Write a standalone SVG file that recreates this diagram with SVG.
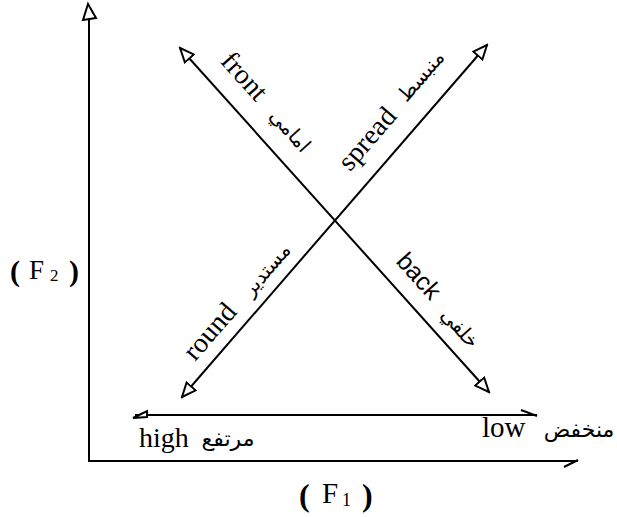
<svg xmlns="http://www.w3.org/2000/svg" width="617" height="517" viewBox="0 0 617 517">
<style>
.ln{stroke:#000;stroke-width:2;fill:none}
.en{font-family:"Liberation Serif","Times New Roman",serif;font-size:28px;fill:#000}
.ensans{font-family:"Liberation Sans",Arial,sans-serif;font-size:25px;fill:#000}
.ar{font-family:"DejaVu Sans","Noto Sans",sans-serif;font-size:20px;fill:#000}
.arh{font-family:"DejaVu Sans","Noto Sans",sans-serif;font-size:22px;fill:#000}
.par{font-weight:bold}
.head{fill:#fff;stroke:#000;stroke-width:2}
</style>
<defs>
<marker id="tri" markerUnits="userSpaceOnUse" viewBox="-1 -1 17 16" markerWidth="17" markerHeight="16" refX="14" refY="7" orient="auto-start-reverse">
<path d="M14,7 L0,1 L0,13 Z" fill="#fff" stroke="#000" stroke-width="2"/>
</marker>
</defs>
<g id="connectors">
<line class="ln" x1="89" y1="462" x2="89" y2="6"/>
<path class="head" d="M88,4 L83,20 L96,18 Z"/>
<line class="ln" x1="88" y1="461" x2="578" y2="461"/>
<path class="ln" d="M578,460 L564,467"/>
<line class="ln" x1="135" y1="415" x2="537" y2="415"/>
<path class="head" d="M133,418 L147,411 L147,417 Z"/>
<path class="ln" d="M521,410 L537,416"/>
<line id="front-back" class="ln" x1="180" y1="48" x2="489" y2="392" marker-start="url(#tri)" marker-end="url(#tri)"/>
<line id="round-spread" class="ln" x1="182" y1="397" x2="487" y2="45" marker-start="url(#tri)" marker-end="url(#tri)"/>
</g>
<g id="front">
<text class="en" transform="translate(219.6,62.1) rotate(48.1)">front</text>
<text class="ar" text-anchor="middle" transform="translate(285,135) rotate(48.1)">امامي</text>
</g>
<g id="back">
<text class="ensans" transform="translate(395,262) rotate(48.1)">back</text>
<text class="ar" text-anchor="middle" transform="translate(455,332.5) rotate(48.1)">خلفي</text>
</g>
<g id="round">
<text class="en" transform="translate(195.1,362) rotate(-49.1)">round</text>
<text class="ar" text-anchor="middle" transform="translate(271.5,274) rotate(-49.1)">مستدير</text>
</g>
<g id="spread">
<text class="en" transform="translate(350,172.2) rotate(-49.1)">spread</text>
<text class="ar" text-anchor="middle" transform="translate(426,80.5) rotate(-49.1)">منبسط</text>
</g>
<g id="high">
<text class="en" x="139" y="447">high</text>
<text class="arh" x="228" y="446" text-anchor="middle">مرتفع</text>
</g>
<g id="low">
<text class="en" x="482" y="437" style="font-size:29px">low</text>
<text class="arh" x="579" y="437" text-anchor="middle">منخفض</text>
</g>
<g id="F2">
<text class="en par" x="10" y="281" style="font-size:30px">(</text>
<text class="en" x="29" y="279" style="font-size:27px">F</text>
<text class="en" x="50" y="281" style="font-size:17px">2</text>
<text class="en par" x="69" y="281" style="font-size:30px">)</text>
</g>
<g id="F1">
<text class="en par" x="299" y="506" style="font-size:32px">(</text>
<text class="en" x="322" y="503" style="font-size:29px">F</text>
<text class="en" x="342" y="506" style="font-size:18px">1</text>
<text class="en par" x="362" y="506" style="font-size:32px">)</text>
</g>
</svg>
